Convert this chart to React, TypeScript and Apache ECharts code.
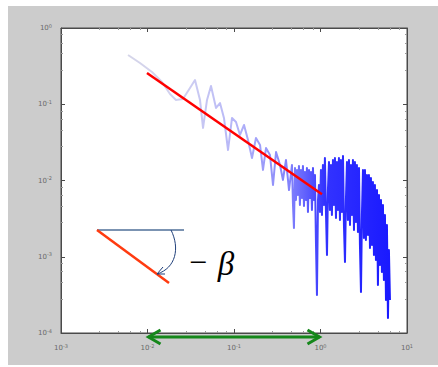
import React, { useEffect, useRef } from "react";
import * as echarts from "echarts";

// Spectrum (log10 of frequency, log10 of power)
const logFreq = [
  -2.225, -2.087, -1.948, -1.832, -1.74, -1.671, -1.59, -1.509, -1.451, -1.393, -1.358, -1.312,
  -1.266, -1.208, -1.162, -1.116, -1.069, -1.023, -0.977, -0.931, -0.884, -0.838, -0.792, -0.746,
  -0.699, -0.665, -0.63, -0.584, -0.549, -0.514, -0.468, -0.434, -0.399, -0.364,
  -0.33, -0.318, -0.307, -0.295, -0.284, -0.272, -0.261, -0.249, -0.238, -0.226, -0.214, -0.203,
  -0.191, -0.18, -0.168, -0.157, -0.145, -0.133, -0.122, -0.11, -0.099, -0.087, -0.076, -0.064,
  -0.053, -0.041, -0.029, -0.018, -0.006, 0.005, 0.017, 0.028, 0.04, 0.051, 0.063, 0.075, 0.086,
  0.098, 0.109, 0.121, 0.132, 0.144, 0.156, 0.167, 0.179, 0.19, 0.202, 0.213, 0.225, 0.236, 0.248,
  0.26, 0.271, 0.283, 0.294, 0.306, 0.317, 0.329, 0.341, 0.352, 0.364, 0.375, 0.387, 0.398, 0.41,
  0.421, 0.433, 0.445, 0.456, 0.468, 0.479, 0.491, 0.502, 0.514, 0.525, 0.537, 0.549, 0.56, 0.572,
  0.583, 0.595, 0.606, 0.618, 0.629, 0.641, 0.653, 0.664, 0.676, 0.687, 0.699, 0.71, 0.722, 0.733,
  0.745, 0.757, 0.768, 0.78, 0.791, 0.803,
];
const logPower = [
  -0.354, -0.459, -0.577, -0.708, -0.866, -0.944, -0.931, -0.787, -0.682, -0.944, -1.311, -0.944,
  -0.761, -1.049, -0.984, -1.18, -1.6, -1.18, -1.233, -1.403, -1.272, -1.469, -1.705, -1.443,
  -1.534, -1.862, -1.574, -1.666, -2.059, -1.626, -1.797, -1.993, -1.731, -2.125,
  -1.797, -2.321, -2.623, -1.836, -2.256, -1.862, -2.19, -1.81, -2.321, -1.862, -2.23, -1.81,
  -2.334, -1.889, -2.256, -1.836, -2.413, -1.862, -2.23, -1.889, -2.387, -1.836, -2.256, -1.928,
  -2.78, -3.502, -2.256, -2.059, -2.413, -1.862, -2.452, -1.797, -2.321, -1.705, -2.413, -2.977,
  -2.125, -1.757, -2.387, -1.797, -2.452, -1.731, -2.321, -1.705, -2.492, -1.757, -2.387, -1.705,
  -2.518, -1.731, -2.413, -1.679, -2.584, -3.069, -2.256, -1.757, -2.518, -1.731, -2.584, -1.797,
  -2.452, -1.731, -2.649, -1.757, -2.544, -1.797, -2.675, -1.836, -2.846, -3.462, -2.452, -1.862,
  -2.754, -1.862, -2.78, -1.928, -2.715, -1.928, -2.885, -1.967, -2.846, -2.02, -2.977, -2.059,
  -3.043, -2.125, -3.37, -2.19, -3.108, -2.256, -3.2, -2.321, -3.305, -2.452, -3.567, -2.584,
  -3.803, -2.911, -3.567,
];

// Fitted power-law line (red)
const fitFreq = [0.00986, 1.04];
const fitPower = [0.257, 0.00661];

// Fitting band (green double arrow)
const bandFreq = [0.01, 1];

// Axis ranges
const xRange = [0.001, 10];
const yRange = [0.0001, 1];

const supLabel = (v: number) => {
  const e = Math.round(Math.log10(v));
  return `{b|10}{s|${e < 0 ? "-" + -e : e}}`;
};

const labelRich = {
  b: { fontSize: 7, color: "#6a6a6a", fontFamily: "DejaVu Sans" },
  s: { fontSize: 5, color: "#6a6a6a", fontFamily: "DejaVu Sans", padding: [0, 0, 5, 0] },
};

export default function App() {
  const ref = useRef<HTMLDivElement>(null);
  useEffect(() => {
    if (!ref.current) return;
    const chart = echarts.init(ref.current, undefined, { renderer: "svg" });
    const spectrum = logFreq.map((e, i) => [Math.pow(10, e), Math.pow(10, logPower[i])]);
    const fit = fitFreq.map((f, i) => [f, fitPower[i]]);
    const axisLine = { show: true, lineStyle: { color: "#4a4a4a", width: 1 } };
    const tick = { show: true, inside: true, length: 4, lineStyle: { color: "#4a4a4a" } };
    const minor = { show: true, splitNumber: 5, length: 2, lineStyle: { color: "#9a9a9a" } };
    chart.setOption({
      animation: false,
      backgroundColor: "#cccccc",
      grid: {
        left: 53,
        top: 22,
        width: 346,
        height: 305,
        show: true,
        backgroundColor: "#ffffff",
        borderColor: "#4a4a4a",
        borderWidth: 1,
      },
      xAxis: [
        {
          type: "log",
          logBase: 10,
          min: xRange[0],
          max: xRange[1],
          position: "bottom",
          axisLine,
          axisTick: tick,
          minorTick: minor,
          splitLine: { show: false },
          axisLabel: { margin: 10, formatter: supLabel, rich: labelRich },
        },
        {
          type: "log",
          logBase: 10,
          min: xRange[0],
          max: xRange[1],
          position: "top",
          axisLine,
          axisTick: tick,
          minorTick: minor,
          splitLine: { show: false },
          axisLabel: { show: false },
        },
      ],
      yAxis: [
        {
          type: "log",
          logBase: 10,
          min: yRange[0],
          max: yRange[1],
          position: "left",
          axisLine,
          axisTick: tick,
          minorTick: minor,
          splitLine: { show: false },
          axisLabel: { margin: 9, formatter: supLabel, rich: labelRich },
        },
        {
          type: "log",
          logBase: 10,
          min: yRange[0],
          max: yRange[1],
          position: "right",
          axisLine,
          axisTick: tick,
          minorTick: minor,
          splitLine: { show: false },
          axisLabel: { show: false },
        },
      ],
      series: [
        {
          type: "line",
          data: spectrum,
          showSymbol: false,
          symbol: "none",
          lineStyle: {
            width: 2,
            join: "round",
            color: new echarts.graphic.LinearGradient(0, 0, 1, 0, [
              { offset: 0, color: "rgba(150,150,200,0.4)" },
              { offset: 0.2, color: "rgba(140,140,220,0.4)" },
              { offset: 0.4, color: "rgba(110,110,240,0.5)" },
              { offset: 0.62, color: "rgba(60,60,250,0.65)" },
              { offset: 0.75, color: "rgba(15,15,255,0.85)" },
              { offset: 1, color: "rgba(0,0,255,0.9)" },
            ]),
          },
          z: 2,
        },
        {
          type: "line",
          data: fit,
          showSymbol: false,
          symbol: "none",
          lineStyle: { width: 2.5, color: "#ff0000" },
          z: 3,
        },
      ],
    });

    const x0 = chart.convertToPixel({ xAxisIndex: 0 }, bandFreq[0]) as number;
    const x1 = chart.convertToPixel({ xAxisIndex: 0 }, bandFreq[1]) as number;
    const yb = (chart.convertToPixel({ yAxisIndex: 0 }, yRange[0]) as number) + 4;
    const green = "#15871a";
    chart.setOption({
      graphic: [
        { type: "line", shape: { x1: x0 + 1, y1: yb, x2: x1 - 1, y2: yb }, style: { stroke: green, lineWidth: 3 }, z: 10 },
        {
          type: "polyline",
          shape: { points: [[x0 + 13, yb - 7], [x0 + 1, yb], [x0 + 13, yb + 7]] },
          style: { stroke: green, lineWidth: 3, fill: "none" },
          z: 10,
        },
        {
          type: "polyline",
          shape: { points: [[x1 - 13, yb - 7], [x1 - 1, yb], [x1 - 13, yb + 7]] },
          style: { stroke: green, lineWidth: 3, fill: "none" },
          z: 10,
        },
        // inset slope sketch
        { type: "line", shape: { x1: 89, y1: 224, x2: 176, y2: 224 }, style: { stroke: "#4f6f99", lineWidth: 1.5 }, z: 10 },
        { type: "line", shape: { x1: 89, y1: 224, x2: 161, y2: 277 }, style: { stroke: "#ff3b10", lineWidth: 2.5 }, z: 10 },
        {
          type: "bezierCurve",
          shape: { x1: 163, y1: 224, cpx1: 172, cpy1: 242, cpx2: 168, cpy2: 262, x2: 149, y2: 268 },
          style: { stroke: "#1f3f7a", lineWidth: 1, fill: "none" },
          z: 10,
        },
        {
          type: "polyline",
          shape: { points: [[155, 261], [149, 268], [157, 268]] },
          style: { stroke: "#1f3f7a", lineWidth: 1, fill: "none" },
          z: 10,
        },
        {
          type: "text",
          x: 190,
          y: 256,
          style: {
            text: "−",
            fontSize: 32,
            fontFamily: "Liberation Serif",
            fill: "#000",
            align: "center",
            verticalAlign: "middle",
          },
          z: 10,
        },
        {
          type: "text",
          x: 218,
          y: 258,
          style: {
            text: "β",
            fontSize: 33,
            fontStyle: "italic",
            fontFamily: "Liberation Serif",
            fill: "#000",
            align: "center",
            verticalAlign: "middle",
          },
          z: 10,
        },
      ],
    });
    return () => chart.dispose();
  }, []);
  return (
    <div style={{ position: "absolute", left: 0, top: 0, width: 438, height: 367, background: "#fff" }}>
      <div ref={ref} style={{ position: "absolute", left: 8, top: 6, width: 430, height: 359 }} />
    </div>
  );
}
